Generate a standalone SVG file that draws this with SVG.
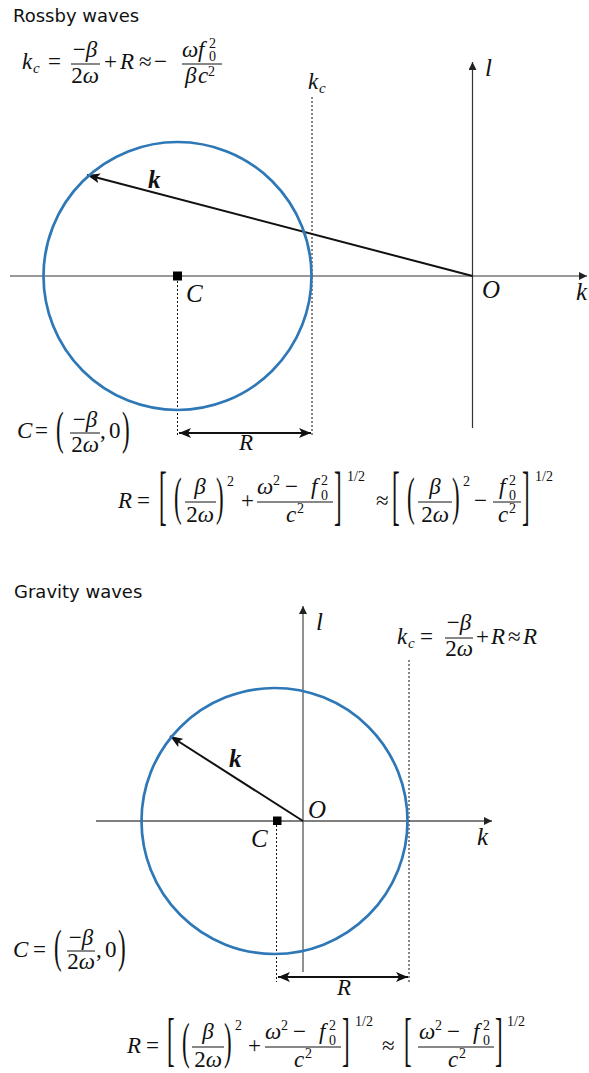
<svg xmlns="http://www.w3.org/2000/svg" width="589" height="1073" viewBox="0 0 589 1073">
<defs>
<style>
text{font-family:"Liberation Serif",serif;font-size:23px;fill:#111}
.t{font-family:"DejaVu Sans",sans-serif;font-size:18px}
.i{font-style:italic}
.s{font-size:14px}
.sb{font-size:15px;font-style:italic}
.ax{font-size:25px;font-style:italic}
.bk{font-size:25px;font-style:italic;font-weight:bold}
.m{text-anchor:middle}
.bar{stroke:#111;stroke-width:1}
.circ{fill:none;stroke:#2f78b7;stroke-width:2.7}
.axR{stroke:#333;stroke-width:1.2;fill:none}
.axG{stroke:#555;stroke-width:1.3;fill:none}
.dot{stroke:#111;stroke-width:1;stroke-dasharray:2 2;fill:none}
.vec{stroke:#111;stroke-width:2;fill:none}
</style>
<marker id="ah" markerUnits="userSpaceOnUse" markerWidth="10" markerHeight="8" refX="8" refY="4" orient="auto"><path d="M0,0 L8,4 L0,8 z" fill="#222"/></marker>
<marker id="vh" markerUnits="userSpaceOnUse" markerWidth="14" markerHeight="10" refX="13" refY="5" orient="auto"><path d="M0,0 L13,5 L0,10 L3,5 z" fill="#111"/></marker>
<marker id="rh" markerUnits="userSpaceOnUse" markerWidth="14" markerHeight="10" refX="12" refY="5" orient="auto-start-reverse"><path d="M0,0 L12,5 L0,10 L3,5 z" fill="#111"/></marker>
</defs>

<!-- ================= ROSSBY ================= -->
<g id="rossby-title"><text class="t" x="13" y="22">Rossby waves</text></g>

<g id="rossby-kc-formula">
<text class="i" x="22" y="69">k</text><text class="sb" x="33" y="73">c</text>
<text x="48" y="69">=</text>
<text class="m" x="85" y="57">−<tspan class="i">β</tspan></text>
<line class="bar" x1="71" y1="64" x2="100" y2="64"/>
<text class="m" x="85" y="83">2<tspan class="i">ω</tspan></text>
<text x="104" y="69">+</text>
<text class="i" x="120" y="69">R</text>
<text x="139" y="69">≈</text>
<text x="154" y="69">−</text>
<text class="i" x="182" y="57">ω</text><text class="i" x="198" y="57">f</text>
<text class="s" x="209" y="48">2</text><text class="s" x="209" y="61">0</text>
<line class="bar" x1="182" y1="64" x2="222" y2="64"/>
<text class="i" x="185" y="83">β</text><text class="i" x="198" y="83">c</text><text class="s" x="208" y="76">2</text>
</g>

<g id="connectors-rossby">
<line class="axR" x1="10" y1="276" x2="587" y2="276" marker-end="url(#ah)"/>
<line class="axR" x1="472.5" y1="428" x2="472.5" y2="62" marker-end="url(#ah)"/>
<line class="dot" x1="312" y1="97" x2="312" y2="437"/>
<line class="dot" x1="177.5" y1="281" x2="177.5" y2="437"/>
<line class="vec" x1="472.5" y1="276" x2="87" y2="175" marker-end="url(#vh)"/>
<line class="vec" x1="179" y1="433" x2="311" y2="433" marker-start="url(#rh)" marker-end="url(#rh)"/>
</g>

<g id="rossby-circle">
<circle class="circ" cx="177.5" cy="276" r="134"/>
<rect x="173" y="271.5" width="9" height="9" fill="#000"/>
</g>

<g id="rossby-labels">
<text class="i" x="308" y="89">k</text><text class="sb" x="319" y="93">c</text>
<text class="ax" x="485" y="76">l</text>
<text class="ax" x="482" y="298">O</text>
<text class="ax" x="576" y="300">k</text>
<text class="ax" x="186" y="302">C</text>
<text class="bk" x="148" y="188">k</text>
<text class="i" x="239" y="450">R</text>
</g>

<g id="rossby-C-formula">
<text class="i" x="17" y="438">C</text>
<text x="35" y="438">=</text>
<text transform="translate(56,433) scale(1,2.0)" y="5.7">(</text>
<text class="m" x="85" y="427">−<tspan class="i">β</tspan></text>
<line class="bar" x1="70" y1="433" x2="100" y2="433"/>
<text class="m" x="85" y="452">2<tspan class="i">ω</tspan></text>
<text x="100" y="438">,</text>
<text x="109" y="438">0</text>
<text transform="translate(122,433) scale(1,2.0)" y="5.7">)</text>
</g>

<g id="rossby-R-formula">
<text class="i" x="118" y="508">R</text>
<text x="137" y="508">=</text>
<text transform="translate(159,501) scale(1,2.85)" y="5.7">[</text>
<text transform="translate(174,501) scale(1,2.3)" y="5.7">(</text>
<text class="m i" x="200" y="494">β</text>
<line class="bar" x1="185" y1="502" x2="216" y2="502"/>
<text class="m" x="200" y="522">2<tspan class="i">ω</tspan></text>
<text transform="translate(216,501) scale(1,2.3)" y="5.7">)</text>
<text class="s" x="227" y="486">2</text>
<text x="241" y="508">+</text>
<text class="i" x="257" y="494">ω</text><text class="s" x="273" y="485">2</text>
<text x="285" y="494">−</text>
<text class="i" x="311" y="494">f</text><text class="s" x="321" y="485">2</text><text class="s" x="321" y="500">0</text>
<line class="bar" x1="257" y1="502" x2="333" y2="502"/>
<text class="i" x="286" y="522">c</text><text class="s" x="297" y="513">2</text>
<text transform="translate(334,501) scale(1,2.85)" y="5.7">]</text>
<text class="s" x="347" y="481">1/2</text>
<text x="376" y="508">≈</text>
<text transform="translate(392,501) scale(1,2.85)" y="5.7">[</text>
<text transform="translate(407,501) scale(1,2.3)" y="5.7">(</text>
<text class="m i" x="435" y="494">β</text>
<line class="bar" x1="418" y1="502" x2="452" y2="502"/>
<text class="m" x="435" y="522">2<tspan class="i">ω</tspan></text>
<text transform="translate(452,501) scale(1,2.3)" y="5.7">)</text>
<text class="s" x="463" y="486">2</text>
<text x="474" y="508">−</text>
<text class="i" x="499" y="494">f</text><text class="s" x="509" y="485">2</text><text class="s" x="509" y="500">0</text>
<line class="bar" x1="493" y1="502" x2="521" y2="502"/>
<text class="i" x="498" y="522">c</text><text class="s" x="509" y="513">2</text>
<text transform="translate(522,501) scale(1,2.85)" y="5.7">]</text>
<text class="s" x="535" y="481">1/2</text>
</g>

<!-- ================= GRAVITY ================= -->
<g id="gravity-title"><text class="t" x="14" y="598">Gravity waves</text></g>

<g id="gravity-kc-formula">
<text class="i" x="397" y="644">k</text><text class="sb" x="408" y="648">c</text>
<text x="420" y="644">=</text>
<text class="m" x="459" y="630">−<tspan class="i">β</tspan></text>
<line class="bar" x1="445" y1="638" x2="473" y2="638"/>
<text class="m" x="459" y="656">2<tspan class="i">ω</tspan></text>
<text x="476" y="644">+</text>
<text class="i" x="491" y="644">R</text>
<text x="508" y="644">≈</text>
<text class="i" x="523" y="644">R</text>
</g>

<g id="connectors-gravity">
<line class="axG" x1="96" y1="821" x2="492" y2="821" marker-end="url(#ah)"/>
<line class="axG" x1="303" y1="972" x2="303" y2="606" marker-end="url(#ah)"/>
<line class="dot" x1="409" y1="660" x2="409" y2="982"/>
<line class="dot" x1="276.5" y1="825" x2="276.5" y2="982"/>
<line class="vec" x1="303" y1="821" x2="170" y2="736" marker-end="url(#vh)"/>
<line class="vec" x1="278" y1="977" x2="408" y2="977" marker-start="url(#rh)" marker-end="url(#rh)"/>
</g>

<g id="gravity-circle">
<circle class="circ" cx="274.5" cy="821" r="133"/>
<rect x="273" y="816.5" width="8.5" height="8.5" fill="#000"/>
</g>

<g id="gravity-labels">
<text class="ax" x="316" y="630">l</text>
<text class="ax" x="308" y="818">O</text>
<text class="ax" x="477" y="845">k</text>
<text class="ax" x="251" y="847">C</text>
<text class="bk" x="229" y="767">k</text>
<text class="i" x="337" y="995">R</text>
</g>

<g id="gravity-C-formula">
<text class="i" x="13" y="957">C</text>
<text x="33" y="957">=</text>
<text transform="translate(54,951) scale(1,2.0)" y="5.7">(</text>
<text class="m" x="81" y="945">−<tspan class="i">β</tspan></text>
<line class="bar" x1="67" y1="951" x2="95" y2="951"/>
<text class="m" x="81" y="969">2<tspan class="i">ω</tspan></text>
<text x="96" y="957">,</text>
<text x="105" y="957">0</text>
<text transform="translate(118,951) scale(1,2.0)" y="5.7">)</text>
</g>

<g id="gravity-R-formula">
<text class="i" x="127" y="1053">R</text>
<text x="146" y="1053">=</text>
<text transform="translate(167,1044) scale(1,2.6)" y="5.7">[</text>
<text transform="translate(182,1045) scale(1,2.2)" y="5.7">(</text>
<text class="m i" x="208" y="1039">β</text>
<line class="bar" x1="192" y1="1047" x2="224" y2="1047"/>
<text class="m" x="208" y="1067">2<tspan class="i">ω</tspan></text>
<text transform="translate(224,1045) scale(1,2.2)" y="5.7">)</text>
<text class="s" x="235" y="1030">2</text>
<text x="248" y="1053">+</text>
<text class="i" x="265" y="1039">ω</text><text class="s" x="281" y="1030">2</text>
<text x="293" y="1039">−</text>
<text class="i" x="319" y="1039">f</text><text class="s" x="329" y="1030">2</text><text class="s" x="329" y="1045">0</text>
<line class="bar" x1="265" y1="1047" x2="341" y2="1047"/>
<text class="i" x="294" y="1067">c</text><text class="s" x="305" y="1058">2</text>
<text transform="translate(342,1044) scale(1,2.6)" y="5.7">]</text>
<text class="s" x="355" y="1026">1/2</text>
<text x="382" y="1053">≈</text>
<text transform="translate(404,1044) scale(1,2.6)" y="5.7">[</text>
<text class="i" x="419" y="1039">ω</text><text class="s" x="435" y="1030">2</text>
<text x="447" y="1039">−</text>
<text class="i" x="473" y="1039">f</text><text class="s" x="483" y="1030">2</text><text class="s" x="483" y="1045">0</text>
<line class="bar" x1="418" y1="1047" x2="494" y2="1047"/>
<text class="i" x="448" y="1067">c</text><text class="s" x="459" y="1058">2</text>
<text transform="translate(495,1044) scale(1,2.6)" y="5.7">]</text>
<text class="s" x="507" y="1026">1/2</text>
</g>
</svg>
